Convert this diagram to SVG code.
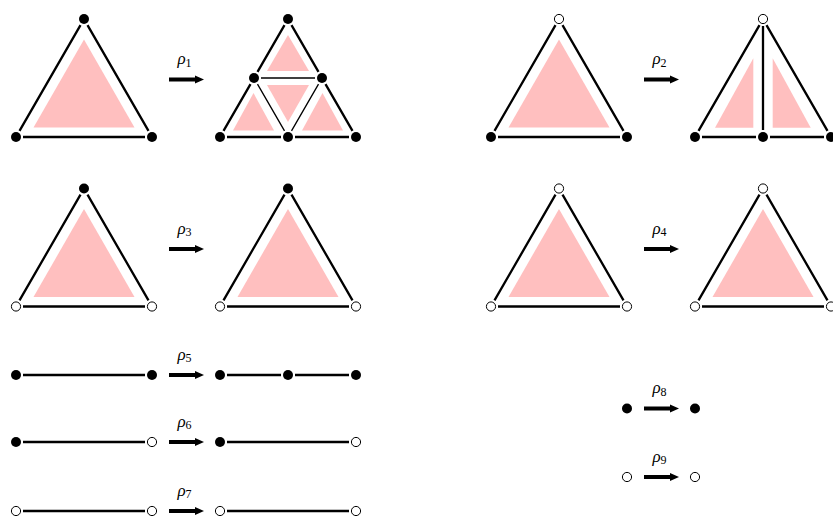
<svg xmlns="http://www.w3.org/2000/svg" xmlns:xlink="http://www.w3.org/1999/xlink" width="833" height="523" viewBox="0 0 833 523">
<style>
.pk{fill:#ffbfbf;stroke:none}
.e{fill:none;stroke:#000;stroke-width:2.3;stroke-linecap:butt}
.t{fill:none;stroke:#000;stroke-width:1.3}
.b{fill:#000}
.w{fill:#fff;stroke:#000;stroke-width:1}
.lab{font-family:"Liberation Serif","DejaVu Serif",serif;font-size:17px;font-style:italic;fill:#000;text-anchor:middle}
.sub{font-style:normal;font-size:12px}
.ar{fill:#000}
</style>
<defs>
<g id="tri">
<polygon class="pk" points="17.5,-9.5 118.5,-9.5 68,-97.5"/>
<path class="e" d="M3.5,-6.07 L64.5,-111.93 M71.5,-111.93 L132.5,-6.07 M7,0 H129"/>
</g>
<path id="arr" d="M0,-2 H26 V-4 L35,0 L26,4 V2 H0 Z"/>
</defs>
<rect width="833" height="523" fill="#fff"/>
<g id="connectors">
<use xlink:href="#arr" class="ar" x="169" y="79.5"/>
<use xlink:href="#arr" class="ar" x="644" y="79.5"/>
<use xlink:href="#arr" class="ar" x="169" y="249"/>
<use xlink:href="#arr" class="ar" x="644" y="249"/>
<use xlink:href="#arr" class="ar" x="169" y="375"/>
<use xlink:href="#arr" class="ar" x="169" y="442"/>
<use xlink:href="#arr" class="ar" x="169" y="511"/>
<use xlink:href="#arr" class="ar" x="644" y="408.5"/>
<use xlink:href="#arr" class="ar" x="644" y="477"/>
<text class="lab" x="184.5" y="64">ρ<tspan class="sub" dy="2.5">1</tspan></text>
<text class="lab" x="659.5" y="64">ρ<tspan class="sub" dy="2.5">2</tspan></text>
<text class="lab" x="184.5" y="233.5">ρ<tspan class="sub" dy="2.5">3</tspan></text>
<text class="lab" x="659.5" y="233.5">ρ<tspan class="sub" dy="2.5">4</tspan></text>
<text class="lab" x="184.5" y="359.5">ρ<tspan class="sub" dy="2.5">5</tspan></text>
<text class="lab" x="184.5" y="426.5">ρ<tspan class="sub" dy="2.5">6</tspan></text>
<text class="lab" x="184.5" y="495.5">ρ<tspan class="sub" dy="2.5">7</tspan></text>
<text class="lab" x="659.5" y="393">ρ<tspan class="sub" dy="2.5">8</tspan></text>
<text class="lab" x="659.5" y="461.5">ρ<tspan class="sub" dy="2.5">9</tspan></text>
</g>
<!-- rho1 -->
<g id="r1-left">
<use xlink:href="#tri" x="16" y="137"/>
<circle class="b" cx="84" cy="19" r="5"/><circle class="b" cx="16" cy="137" r="5"/><circle class="b" cx="152" cy="137" r="5"/>
</g>
<g id="r1-right">
<polygon class="pk" points="267,71 309,71 288,35"/>
<polygon class="pk" points="233,130.5 274,130.5 253.5,93"/>
<polygon class="pk" points="302,130.5 343,130.5 322.5,93"/>
<polygon class="pk" points="267,85 309,85 288,122"/>
<path class="e" d="M223.5,130.93 L250.5,84.07 M257.5,71.93 L284.5,25.07 M291.5,25.07 L318.5,71.93 M325.5,84.07 L352.5,130.93 M227,137 H281 M295,137 H349"/>
<path class="t" d="M261,78 H315 M257.5,84.07 L284.5,130.93 M318.5,84.07 L291.5,130.93"/>
<circle class="b" cx="288" cy="19" r="5"/><circle class="b" cx="254" cy="78" r="5"/><circle class="b" cx="322" cy="78" r="5"/>
<circle class="b" cx="220" cy="137" r="5"/><circle class="b" cx="288" cy="137" r="5"/><circle class="b" cx="356" cy="137" r="5"/>
</g>
<!-- rho2 -->
<g id="r2-left">
<use xlink:href="#tri" x="491" y="137"/>
<circle class="w" cx="559" cy="19" r="4.6"/><circle class="b" cx="491" cy="137" r="5"/><circle class="b" cx="627" cy="137" r="5"/>
</g>
<g id="r2-right">
<polygon class="pk" points="715,127.7 753.3,127.7 753.3,58.3"/>
<polygon class="pk" points="772.7,58.3 772.7,127.7 810.7,127.7"/>
<path class="e" d="M698.5,130.93 L759.5,25.07 M766.5,25.07 L827.5,130.93 M702,137 H756 M770,137 H824 M763,26 V130"/>
<circle class="w" cx="763" cy="19" r="4.6"/><circle class="b" cx="695" cy="137" r="5"/><circle class="b" cx="763" cy="137" r="5"/><circle class="b" cx="831" cy="137" r="5"/>
</g>
<!-- rho3 -->
<g id="r3-left">
<use xlink:href="#tri" x="16" y="306.5"/>
<circle class="b" cx="84" cy="188.5" r="5"/><circle class="w" cx="16" cy="306.5" r="4.6"/><circle class="w" cx="152" cy="306.5" r="4.6"/>
</g>
<g id="r3-right">
<use xlink:href="#tri" x="220" y="306.5"/>
<circle class="b" cx="288" cy="188.5" r="5"/><circle class="w" cx="220" cy="306.5" r="4.6"/><circle class="w" cx="356" cy="306.5" r="4.6"/>
</g>
<!-- rho4 -->
<g id="r4-left">
<use xlink:href="#tri" x="491" y="306.5"/>
<circle class="w" cx="559" cy="188.5" r="4.6"/><circle class="w" cx="491" cy="306.5" r="4.6"/><circle class="w" cx="627" cy="306.5" r="4.6"/>
</g>
<g id="r4-right">
<use xlink:href="#tri" x="695" y="306.5"/>
<circle class="w" cx="763" cy="188.5" r="4.6"/><circle class="w" cx="695" cy="306.5" r="4.6"/><circle class="w" cx="831" cy="306.5" r="4.6"/>
</g>
<!-- rho5 -->
<g id="r5-left">
<path class="e" d="M23,375 H145"/>
<circle class="b" cx="16" cy="375" r="5"/><circle class="b" cx="152" cy="375" r="5"/>
</g>
<g id="r5-right">
<path class="e" d="M227,375 H281 M295,375 H349"/>
<circle class="b" cx="220" cy="375" r="5"/><circle class="b" cx="288" cy="375" r="5"/><circle class="b" cx="356" cy="375" r="5"/>
</g>
<!-- rho6 -->
<g id="r6-left">
<path class="e" d="M23,442 H145"/>
<circle class="b" cx="16" cy="442" r="5"/><circle class="w" cx="152" cy="442" r="4.6"/>
</g>
<g id="r6-right">
<path class="e" d="M227,442 H349"/>
<circle class="b" cx="220" cy="442" r="5"/><circle class="w" cx="356" cy="442" r="4.6"/>
</g>
<!-- rho7 -->
<g id="r7-left">
<path class="e" d="M23,511 H145"/>
<circle class="w" cx="16" cy="511" r="4.6"/><circle class="w" cx="152" cy="511" r="4.6"/>
</g>
<g id="r7-right">
<path class="e" d="M227,511 H349"/>
<circle class="w" cx="220" cy="511" r="4.6"/><circle class="w" cx="356" cy="511" r="4.6"/>
</g>
<!-- rho8, rho9 -->
<g id="r8-left"><circle class="b" cx="627" cy="408.5" r="5"/></g>
<g id="r8-right"><circle class="b" cx="695" cy="408.5" r="5"/></g>
<g id="r9-left"><circle class="w" cx="627" cy="477" r="4.6"/></g>
<g id="r9-right"><circle class="w" cx="695" cy="477" r="4.6"/></g>
</svg>
